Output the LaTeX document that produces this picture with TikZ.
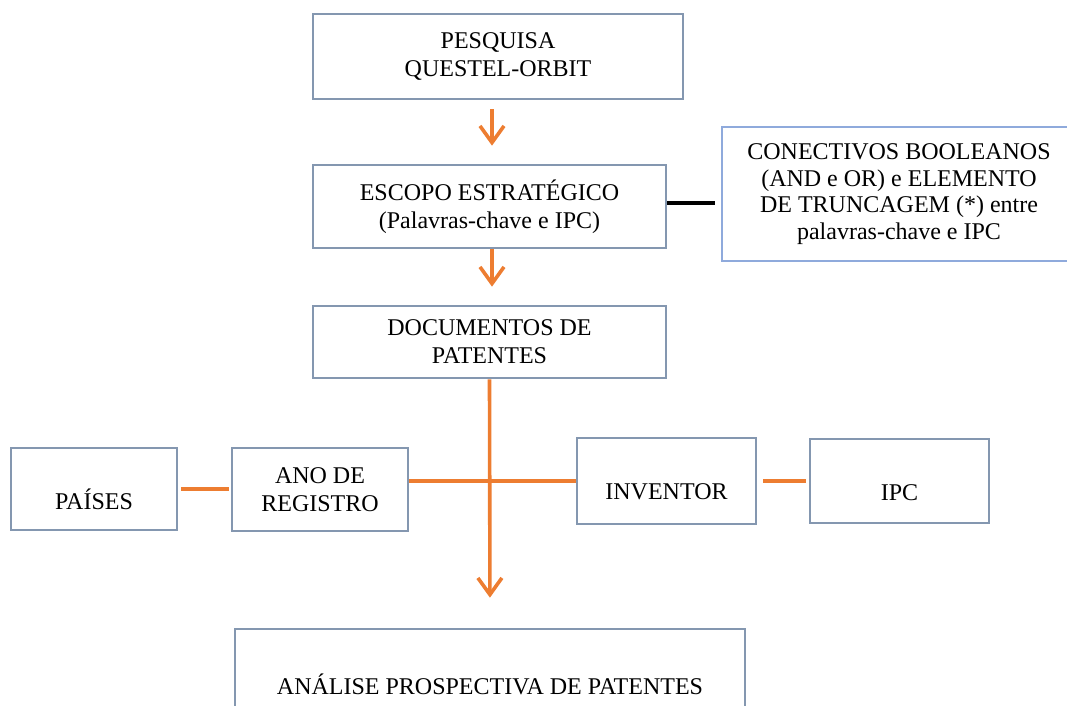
\documentclass[tikz,border=0pt]{standalone}
\usepackage{fontspec}
\setmainfont{Liberation Serif}
\usetikzlibrary{arrows.meta}
\definecolor{boxgray}{HTML}{8497B0}
\definecolor{boxblue}{HTML}{8FAADC}
\definecolor{linkorange}{HTML}{ED7D31}
\tikzset{x=0.75pt, y=-0.75pt,
every node/.style={font=\fontsize{18}{21}\selectfont},
box/.style={ % Sets the properties for each box
draw=boxgray,
line width=2pt,
fill=white,
align=center,
inner sep=0pt},
flow/.style={ % Orange arrows between the steps
draw=linkorange,
line width=2.7pt,
-{Straight Barb[length=12.5pt,width=18pt]}},
link/.style={ % Orange lines without a head
draw=linkorange,
line width=2.7pt}}

\begin{document}
\begin{tikzpicture}
\useasboundingbox (0,0) rectangle (1067,706);
\node[box, minimum width=277.5pt, minimum height=63.75pt] (pesquisa) at (498,56.5) {PESQUISA\\QUESTEL-ORBIT};
\node[box, minimum width=264.75pt, minimum height=62.25pt] (escopo) at (489.5,206.5) {ESCOPO ESTRATÉGICO\\(Palavras-chave e IPC)};
\node[box, draw=boxblue, minimum width=265.5pt, minimum height=100.5pt, font=\fontsize{18}{20}\selectfont] (conectivos) at (899,194) {CONECTIVOS BOOLEANOS\\(AND e OR) e ELEMENTO\\DE TRUNCAGEM (*) entre\\palavras-chave e IPC};
\node[box, minimum width=264.75pt, minimum height=54pt] (documentos) at (489.5,342) {DOCUMENTOS DE\\PATENTES};
\node[box, minimum width=124.5pt, minimum height=61.5pt, text height=30pt, text depth=0pt] (paises) at (94,489) {PAÍSES};
\node[box, minimum width=132pt, minimum height=62.25pt] (ano) at (320,489.5) {ANO DE\\REGISTRO};
\node[box, minimum width=134.25pt, minimum height=64.5pt, text height=28pt, text depth=0pt] (inventor) at (666.5,481) {INVENTOR};
\node[box, minimum width=134.25pt, minimum height=63pt, text height=28.5pt, text depth=0pt] (ipc) at (899.5,481) {IPC};
\node[box, minimum width=382.5pt, minimum height=83.25pt] (analise) at (490,684.5) {ANÁLISE PROSPECTIVA DE PATENTES};

\coordinate (axis) at (492,0);
\coordinate (cut) at (0,203);
\draw[flow, shorten <=6.75pt, shorten >=13.5pt] (pesquisa.south -| axis) -- (escopo.north -| axis);
\draw[flow, shorten >=13.5pt] (escopo.south -| axis) -- (documentos.north -| axis);
\draw[black, line width=2.4pt, shorten >=4.5pt] (escopo.east |- cut) -- (conectivos.west |- cut);
\draw[flow, shorten >=22.5pt] (documentos.south) -- (analise.north);
\draw[link] (ano.east |- inventor.west) -- (inventor.west);
\draw[link, shorten <=2.25pt, shorten >=1.5pt] (paises.east) -- (ano.west |- paises.east);
\draw[link, shorten <=4.5pt, shorten >=2.25pt] (inventor.east) -- (ipc.west);
\end{tikzpicture}
\end{document}
